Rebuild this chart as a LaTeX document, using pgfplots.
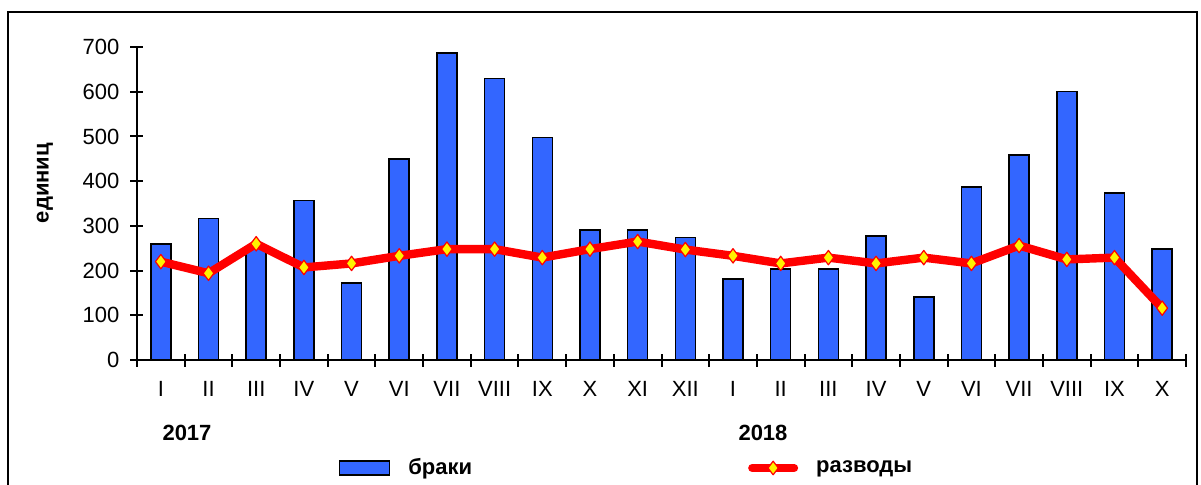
\documentclass[border=0pt]{standalone}
\usepackage{pgfplots}
\pgfplotsset{compat=1.18}
\usepackage{fontspec}
\setmainfont{Liberation Sans}
\definecolor{barblue}{HTML}{3366FF}
\pgfplotstableread{
x braki razvody
0 260 220
1 317 194
2 252 260
3 357 207
4 172 216
5 450 233
6 687 248
7 630 248
8 498 229
9 291 248
10 291 265
11 274 247
12 181 233
13 203 216
14 203 229
15 277 216
16 141 229
17 387 216
18 459 256
19 600 225
20 374 229
21 248 116
}\datatable
\begin{document}
\begin{tikzpicture}
\path[use as bounding box] (0pt,0pt) rectangle (600.5pt,242pt);
\draw[line width=1pt] (4pt,-5pt) -- (4pt,236pt) -- (598.5pt,236pt) -- (598.5pt,-5pt);
\begin{axis}[
  at={(68.5pt,62pt)}, anchor=south west,
  scale only axis, width=524.5pt, height=156.5pt,
  xmin=-0.5, xmax=21.5, ymin=0, ymax=700,
  axis x line=bottom, axis y line=left,
  axis line style={-, line width=1pt},
  xtick={0,...,21},
  xticklabels={I,II,III,IV,V,VI,VII,VIII,IX,X,XI,XII,I,II,III,IV,V,VI,VII,VIII,IX,X},
  major x tick style={draw=none},
  minor xtick={-0.5,0.5,...,21.5},
  minor tick length=6.5pt,
  every tick/.style={black, line width=1pt},
  ytick={0,100,...,700},
  major tick length=6.5pt,
  tick align=center,
  /pgf/number format/assume math mode=true,
  tick label style={font=\fontsize{11}{13}\selectfont},
  xticklabel style={yshift=-4pt},
  yticklabel style={xshift=-2pt},
  legend style={at={(0.4676,-0.345)}, anchor=center, draw=none, fill=none,
    font=\bfseries\fontsize{11}{13}\selectfont,
    /tikz/every even column/.append style={column sep=136pt}},
  legend columns=2,
  clip=false,
]
\addplot[ybar, bar width=10pt, fill=barblue, draw=black, line width=0.75pt,
  legend image code/.code={\draw[fill=barblue,draw=black,line width=0.75pt] (0pt,-3.5pt) rectangle (25pt,3.5pt);}]
  table[x=x,y=braki]{\datatable};
\addlegendentry{\hspace*{7pt}браки}
\addplot[red, line width=4.2pt, line join=round,
  mark=diamond*, mark size=3.6pt,
  mark options={fill=yellow, draw=red, line width=0.6pt},
  legend image code/.code={\draw[red,line width=4pt,line cap=round] (0pt,0pt) -- (21pt,0pt);
    \draw[red,fill=yellow,line width=0.6pt] (10.5pt,3.4pt) -- (13.1pt,0pt) -- (10.5pt,-3.4pt) -- (7.9pt,0pt) -- cycle;}]
  table[x=x,y=razvody]{\datatable};
\addlegendentry{\hspace*{7pt}разводы}
\end{axis}
\node[font=\bfseries\fontsize{11}{13}\selectfont] at (93.5pt,25.5pt) {2017};
\node[font=\bfseries\fontsize{11}{13}\selectfont] at (381.5pt,25.5pt) {2018};
\node[font=\bfseries\fontsize{11}{13}\selectfont, rotate=90] at (22.5pt,150.5pt) {единиц};
\end{tikzpicture}
\end{document}
